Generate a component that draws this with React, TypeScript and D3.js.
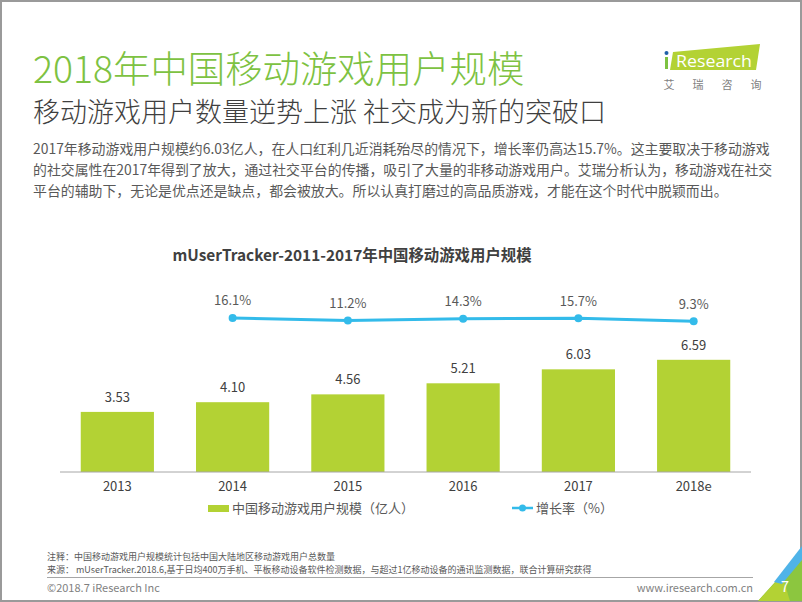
import React from "react";
import * as d3 from "d3";

const categories = ["2013", "2014", "2015", "2016", "2017", "2018e"];
const userScale = [3.53, 4.1, 4.56, 5.21, 6.03, 6.59];
const growthYears = ["2014", "2015", "2016", "2017", "2018e"];
const growthRate = [16.1, 11.2, 14.3, 15.7, 9.3];
const barLegend = "中国移动游戏用户规模（亿人）";
const lineLegend = "增长率（%）";
const paragraph = [
  "2017年移动游戏用户规模约6.03亿人，在人口红利几近消耗殆尽的情况下，增长率仍高达15.7%。这主要取决于移动游戏",
  "的社交属性在2017年得到了放大，通过社交平台的传播，吸引了大量的非移动游戏用户。艾瑞分析认为，移动游戏在社交",
  "平台的辅助下，无论是优点还是缺点，都会被放大。所以认真打磨过的高品质游戏，才能在这个时代中脱颖而出。",
];
const logoChars = ["艾", "瑞", "咨", "询"];

const FONT = "'Noto Sans CJK SC', 'Microsoft YaHei', sans-serif";
const BAR = "#b3d234";
const LINE = "#33bbea";
const GREEN = "#7dc242";

export default function App() {
  const x = d3.scaleBand<string>().domain(categories).range([60, 751]).paddingInner(0.365).paddingOuter(0.18);
  const y = d3.scaleLinear().domain([0, 8]).range([472, 335.8]);
  const y2 = d3.scaleLinear().domain([0, 20]).range([326, 316]);
  const cx = (c: string) => (x(c) as number) + x.bandwidth() / 2;
  const line = d3
    .line<number>()
    .x((_, i) => cx(growthYears[i]))
    .y((d) => y2(d));

  return (
    <svg
      width={802}
      height={602}
      style={{ position: "absolute", left: 0, top: 0, background: "#fff" }}
      fontFamily={FONT}
    >
      <rect x={1} y={1} width={800} height={600} fill="#fff" stroke="#9a9a9a" strokeWidth={2} />

      {/* Title */}
      <text x={33} y={83} fontSize={37.4} fill={GREEN} fontWeight={300}>
        2018年中国移动游戏用户规模
      </text>
      <text x={33} y={122} fontSize={27} fill="#3f3f3f" fontWeight={300}>
        移动游戏用户数量逆势上涨 社交成为新的突破口
      </text>
      {paragraph.map((p, i) => (
        <text key={i} x={33} y={154 + i * 21} fontSize={13.9} fill="#595959">
          {p}
        </text>
      ))}

      {/* Logo */}
      <polygon points="673,52 760,44 756,70 670,70" fill={BAR} />
      <rect x={665} y={57} width={3} height={12} fill={GREEN} />
      <circle cx={666.5} cy={53} r={2} fill="#1f5fa8" />
      <text x={676} y={67} fontSize={17} fill="#fff" fontFamily="'Open Sans', sans-serif" textLength={76} lengthAdjust="spacingAndGlyphs">
        Research
      </text>
      {logoChars.map((c, i) => (
        <text key={c} x={669 + i * 29} y={89} fontSize={11} fill="#7f7f7f" textAnchor="middle">
          {c}
        </text>
      ))}

      {/* Chart title */}
      <text x={352} y={261} fontSize={15.4} fontWeight={700} fill="#404040" textAnchor="middle">
        mUserTracker-2011-2017年中国移动游戏用户规模
      </text>

      {/* Bars */}
      {categories.map((c, i) => (
        <g key={c}>
          <rect x={x(c)} y={y(userScale[i])} width={x.bandwidth()} height={y(0) - y(userScale[i])} fill={BAR} />
          <text x={cx(c)} y={y(userScale[i]) - 10} fontSize={13} fill="#404040" textAnchor="middle">
            {userScale[i].toFixed(2)}
          </text>
          <text x={cx(c)} y={491} fontSize={13} fill="#404040" textAnchor="middle">
            {c}
          </text>
        </g>
      ))}
      <line x1={60} x2={751} y1={472} y2={472} stroke="#a6a6a6" strokeWidth={1} />

      {/* Growth line */}
      <path d={line(growthRate) || ""} fill="none" stroke={LINE} strokeWidth={3} />
      {growthRate.map((v, i) => (
        <g key={i}>
          <circle cx={cx(growthYears[i])} cy={y2(v)} r={4} fill={LINE} />
          <text x={cx(growthYears[i])} y={y2(v) - 12.5} fontSize={13} fill="#595959" textAnchor="middle">
            {v.toFixed(1)}%
          </text>
        </g>
      ))}

      {/* Legend */}
      <rect x={208} y={505} width={21} height={7} fill={BAR} />
      <text x={232} y={513} fontSize={13} fill="#595959">
        {barLegend}
      </text>
      <line x1={512} x2={533} y1={508} y2={508} stroke={LINE} strokeWidth={2.5} />
      <circle cx={522.5} cy={508} r={3.5} fill={LINE} />
      <text x={536} y={513} fontSize={13} fill="#595959">
        {lineLegend}
      </text>

      {/* Footnotes */}
      <text x={47} y={559.5} fontSize={9} fill="#595959">
        注释：中国移动游戏用户规模统计包括中国大陆地区移动游戏用户总数量
      </text>
      <text x={47} y={573} fontSize={9} fill="#595959">
        来源： mUserTracker.2018.6,基于日均400万手机、平板移动设备软件检测数据，与超过1亿移动设备的通讯监测数据，联合计算研究获得
      </text>
      <line x1={47} x2={753} y1={577.5} y2={577.5} stroke="#a6a6a6" strokeWidth={1} />
      <text x={47} y={592} fontSize={11} fill="#7f7f7f">
        ©2018.7 iResearch Inc
      </text>
      <text x={753} y={592} fontSize={11} fill="#7f7f7f" textAnchor="end">
        www.iresearch.com.cn
      </text>

      {/* Corner decoration */}
      <polygon points="758,601 802,552 802,601" fill="#8cc63f" />
      <polygon points="758,601 782,575 790,601" fill="#b3d234" />
      <polygon points="774,582 802,546 802,560 782,584" fill="#4fb3e8" />
      <text x={785} y={592} fontSize={15} fill="#fff" textAnchor="middle">
        7
      </text>
    </svg>
  );
}
